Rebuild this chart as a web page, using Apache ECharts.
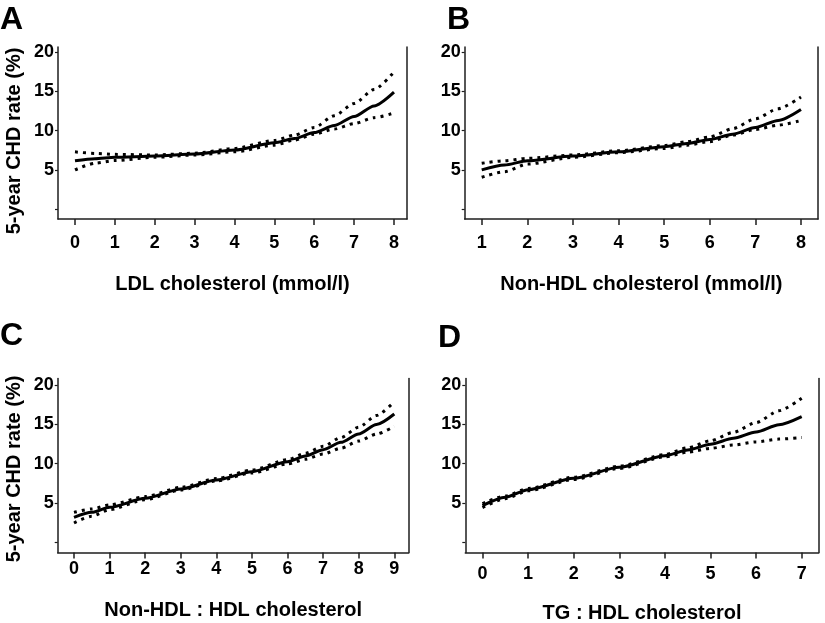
<!DOCTYPE html>
<html>
<head>
<meta charset="utf-8">
<script src="https://cdn.jsdelivr.net/npm/echarts@6/dist/echarts.min.js"></script>
<style>html,body{margin:0;padding:0;background:#fff;}#c{width:825px;height:623px;}</style>
</head>
<body>
<div id="c"></div>
<script>
// Panel A: LDL cholesterol (mmol/l)
const ldlX   = [0, 0.5, 1, 2, 3, 4, 5, 5.5, 6, 6.5, 7, 7.5, 8];
const ldlMid = [6.17, 6.43, 6.6, 6.77, 7.02, 7.53, 8.45, 9.0, 9.75, 10.65, 11.8, 13.15, 14.9];
const ldlUp  = [7.3, 7.1, 6.98, 6.9, 7.13, 7.74, 8.75, 9.43, 10.4, 11.9, 13.45, 15.25, 17.47];
const ldlLo  = [5.0, 5.85, 6.2, 6.6, 6.9, 7.3, 8.15, 8.8, 9.55, 10.2, 10.9, 11.65, 12.25];
const ldlTicks = [0, 1, 2, 3, 4, 5, 6, 7, 8];

// Panel B: Non-HDL cholesterol (mmol/l)
const nhX   = [1, 1.5, 2, 3, 4, 5, 5.5, 6, 6.5, 7, 7.5, 8];
const nhMid = [5.0, 5.63, 6.17, 6.76, 7.3, 7.95, 8.37, 8.88, 9.55, 10.4, 11.3, 12.7];
const nhUp  = [5.84, 6.17, 6.47, 6.9, 7.44, 8.1, 8.6, 9.2, 10.25, 11.5, 12.8, 14.28];
const nhLo  = [4.06, 4.77, 5.74, 6.6, 7.19, 7.73, 8.15, 8.6, 9.43, 10.15, 10.7, 11.3];
const nhTicks = [1, 2, 3, 4, 5, 6, 7, 8];

// Panel C: Non-HDL : HDL cholesterol
const rX   = [0, 0.5, 1, 2, 3, 4, 5, 6, 6.5, 7, 7.5, 8, 8.5, 9];
const rMid = [3.17, 3.8, 4.44, 5.58, 6.77, 7.91, 8.97, 10.24, 10.97, 11.76, 12.69, 13.75, 14.95, 16.29];
const rUp  = [3.8, 4.23, 4.74, 5.8, 6.97, 8.1, 9.17, 10.5, 11.3, 12.18, 13.3, 14.62, 16.1, 17.85];
const rLo  = [2.45, 3.3, 4.15, 5.41, 6.64, 7.78, 8.8, 9.94, 10.55, 11.2, 11.95, 12.85, 13.75, 14.72];
const rTicks = [0, 1, 2, 3, 4, 5, 6, 7, 8, 9];

// Panel D: TG : HDL cholesterol
const tX   = [0, 0.5, 1, 2, 3, 4, 4.5, 5, 5.5, 6, 6.5, 7];
const tMid = [4.65, 5.71, 6.68, 8.12, 9.52, 11.0, 11.72, 12.45, 13.2, 14.0, 14.92, 15.95];
const tUp  = [4.9, 5.88, 6.83, 8.27, 9.67, 11.15, 12.0, 12.9, 13.96, 15.2, 16.7, 18.3];
const tLo  = [4.4, 5.54, 6.53, 7.97, 9.37, 10.85, 11.45, 11.93, 12.35, 12.75, 13.1, 13.3];
const tTicks = [0, 1, 2, 3, 4, 5, 6, 7];

const yTicks = [0, 5, 10, 15, 20];
const yLabels = [5, 10, 15, 20];
const panelLetters = ['A', 'B', 'C', 'D'];
const xTitles = ['LDL cholesterol (mmol/l)', 'Non-HDL cholesterol (mmol/l)', 'Non-HDL : HDL cholesterol', 'TG : HDL cholesterol'];
const yTitle = '5-year CHD rate (%)';

const FONT = 'Liberation Sans, Arial, Helvetica, sans-serif';
const AX = '#1e1e1e';

const panels = [
  {x: ldlX, mid: ldlMid, up: ldlUp, lo: ldlLo, ticks: ldlTicks, xmin: -0.426, xmax: 8.326, ymin: -1.25, ymax: 20.65,
   grid: {left: 58, top: 47, width: 349, height: 172}, lblMargin: 15, nameGap: 55},
  {x: nhX, mid: nhMid, up: nhUp, lo: nhLo, ticks: nhTicks, xmin: 0.627, xmax: 8.373, ymin: -1.25, ymax: 20.65,
   grid: {left: 464.7, top: 47, width: 353.3, height: 172}, lblMargin: 15, nameGap: 55},
  {x: rX, mid: rMid, up: rUp, lo: rLo, ticks: rTicks, xmin: -0.458, xmax: 9.405, ymin: -1.3, ymax: 20.8,
   grid: {left: 57.7, top: 378.5, width: 351, height: 174}, lblMargin: 8, nameGap: 48},
  {x: tX, mid: tMid, up: tUp, lo: tLo, ticks: tTicks, xmin: -0.377, xmax: 7.373, ymin: -1.3, ymax: 20.8,
   grid: {left: 465.3, top: 378.5, width: 353.4, height: 174}, lblMargin: 13, nameGap: 51}
];

const zip = (a, b) => a.map((v, i) => [v, b[i]]);

const grids = [], xAxes = [], yAxes = [], series = [];
panels.forEach((p, i) => {
  grids.push(Object.assign({containLabel: false, outerBoundsMode: 'none'}, p.grid));
  xAxes.push({
    type: 'value', gridIndex: i, min: p.xmin, max: p.xmax,
    axisLine: {show: true, onZero: false, lineStyle: {color: AX, width: 1.5}},
    axisTick: {show: true, length: 6, customValues: p.ticks, lineStyle: {color: AX, width: 1.5}},
    axisLabel: {customValues: p.ticks, margin: p.lblMargin, color: '#000', fontSize: 18, fontWeight: 'bold', fontFamily: FONT},
    splitLine: {show: false},
    name: xTitles[i], nameLocation: 'middle', nameGap: p.nameGap,
    nameTextStyle: {color: '#000', fontSize: 20, fontWeight: 'bold', fontFamily: FONT}
  });
  yAxes.push({
    type: 'value', gridIndex: i, min: p.ymin, max: p.ymax, position: 'left',
    axisLine: {show: true, onZero: false, lineStyle: {color: AX, width: 1.5}},
    axisTick: {show: true, length: 3, customValues: yTicks, lineStyle: {color: AX, width: 1.2}},
    axisLabel: {customValues: yLabels, margin: 4, color: '#000', fontSize: 18, fontWeight: 'bold', fontFamily: FONT},
    splitLine: {show: false}
  });
  yAxes.push({
    type: 'value', gridIndex: i, min: p.ymin, max: p.ymax, position: 'right',
    axisLine: {show: true, onZero: false, lineStyle: {color: AX, width: 1.5}},
    axisTick: {show: false}, axisLabel: {show: false}, splitLine: {show: false}
  });
  const yIdx = i * 2;
  const dotted = {color: '#000', width: 3, type: [3, 5]};
  series.push({type: 'line', xAxisIndex: i, yAxisIndex: yIdx, data: zip(p.x, p.up), showSymbol: false,
    smooth: 0.25, smoothMonotone: 'x', lineStyle: dotted, silent: true, z: 2});
  series.push({type: 'line', xAxisIndex: i, yAxisIndex: yIdx, data: zip(p.x, p.lo), showSymbol: false,
    smooth: 0.25, smoothMonotone: 'x', lineStyle: dotted, silent: true, z: 2});
  series.push({type: 'line', xAxisIndex: i, yAxisIndex: yIdx, data: zip(p.x, p.mid), showSymbol: false,
    smooth: 0.25, smoothMonotone: 'x', lineStyle: {color: '#000', width: 3}, silent: true, z: 3});
});

const letterPos = [[0, 4], [447, 4], [0, 320], [438, 322]];
const graphics = panelLetters.map((L, i) => ({
  type: 'text', x: letterPos[i][0], y: letterPos[i][1],
  style: {text: L, fill: '#000', font: 'bold 32px ' + FONT, textVerticalAlign: 'top', textAlign: 'left'}
}));
[[14, 141], [14, 469]].forEach(([x, y]) => {
  graphics.push({
    type: 'text', x: x, y: y, rotation: Math.PI / 2,
    style: {text: yTitle, fill: '#000', font: 'bold 20px ' + FONT, textAlign: 'center', textVerticalAlign: 'middle'}
  });
});

const chart = echarts.init(document.getElementById('c'), null, {renderer: 'canvas'});
chart.setOption({
  animation: false,
  backgroundColor: '#fff',
  grid: grids, xAxis: xAxes, yAxis: yAxes, series: series, graphic: graphics
});
</script>
</body>
</html>
